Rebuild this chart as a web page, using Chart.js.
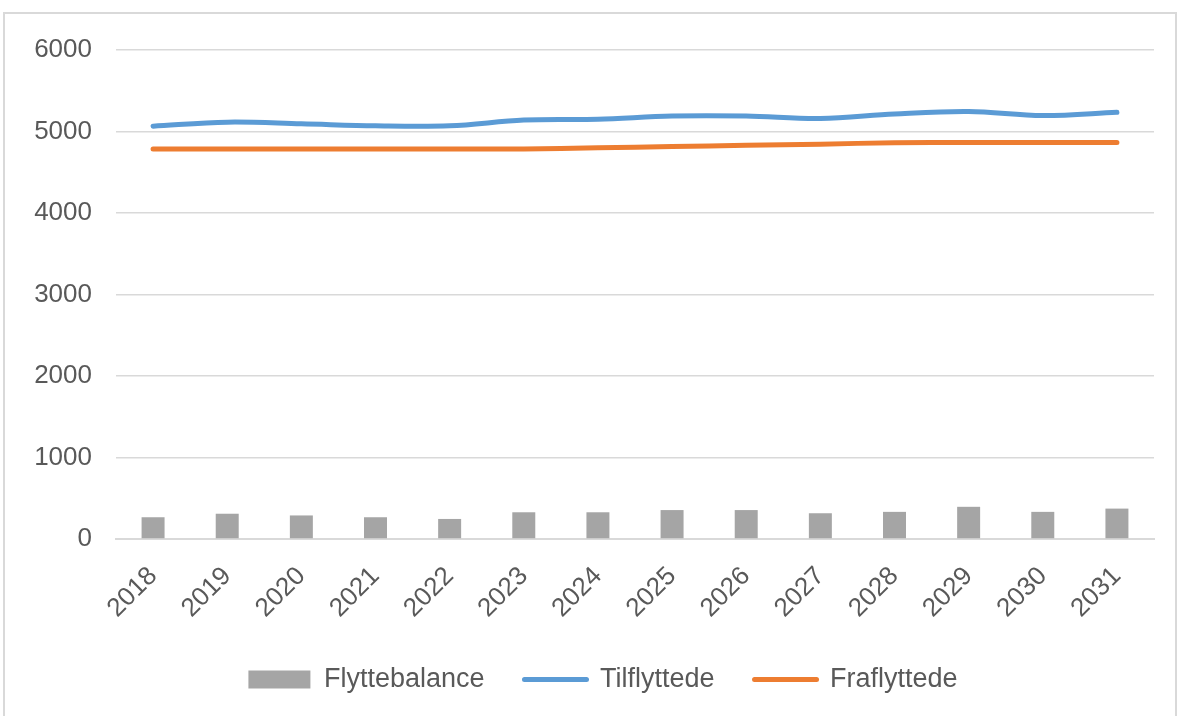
<!DOCTYPE html>
<html>
<head>
<meta charset="utf-8">
<script src="https://cdn.jsdelivr.net/npm/chart.js@4.4.1/dist/chart.umd.min.js"></script>
<style>
  body { margin: 0; background: #fff; overflow: hidden; }
  #ramme { position: absolute; left: 3px; top: 12px; width: 1170px; height: 720px; border: 2px solid #d9d9d9; }
  #wrap { position: absolute; left: 0; top: 0; width: 1179px; height: 716px; }
</style>
</head>
<body>
<div id="ramme"></div>
<div id="wrap"><canvas id="graf"></canvas></div>
<script>
// aar og flyttetal aflaest fra figuren
var aar = ['2018','2019','2020','2021','2022','2023','2024','2025','2026','2027','2028','2029','2030','2031'];
var flyttebalance = [267, 310, 289, 267, 246, 328, 328, 355, 355, 316, 333, 395, 333, 373];
var tilflyttede = [5065, 5115, 5095, 5070, 5070, 5140, 5150, 5190, 5190, 5160, 5215, 5245, 5195, 5235];
var fraflyttede = [4785, 4785, 4785, 4785, 4785, 4785, 4800, 4815, 4830, 4845, 4862, 4865, 4865, 4865];
var yTicks = [0, 1000, 2000, 3000, 4000, 5000, 6000];

var tekstFarve = '#595959';
var gitter = '#d9d9d9';
var skrift = "'Liberation Sans', Arial, sans-serif";

// legenden: mindre hoejde og lidt mod hoejre som i excel
var legendeHoejde = {
  id: 'legendeHoejde',
  afterInit: function(chart) {
    var lg = chart.legend;
    if (!lg) return;
    var gammelFit = lg.fit;
    lg.fit = function() {
      gammelFit.call(this);
      this.height = 90;
    };
  },
  beforeDraw: function(chart) {
    var lg = chart.legend;
    if (!lg) return;
    lg.left = 52;
    lg.right = chart.chartArea.right;
  }
};

var ctx = document.getElementById('graf');
var myChart = new Chart(ctx, {
  type: 'bar',
  data: {
    labels: aar,
    datasets: [
      {
        label: 'Flyttebalance',
        data: flyttebalance,
        backgroundColor: '#a5a5a5',
        borderWidth: 0,
        barPercentage: 0.31,
        categoryPercentage: 1,
        order: 3
      },
      {
        type: 'line',
        label: 'Tilflyttede',
        data: tilflyttede,
        borderColor: '#5b9bd5',
        backgroundColor: '#5b9bd5',
        borderWidth: 5,
        borderCapStyle: 'round',
        tension: 0.35,
        pointRadius: 0,
        fill: false,
        order: 1
      },
      {
        type: 'line',
        label: 'Fraflyttede',
        data: fraflyttede,
        borderColor: '#ed7d31',
        backgroundColor: '#ed7d31',
        borderWidth: 5,
        borderCapStyle: 'round',
        tension: 0.35,
        pointRadius: 0,
        fill: false,
        order: 2
      }
    ]
  },
  plugins: [legendeHoejde],
  options: {
    responsive: true,
    maintainAspectRatio: false,
    animation: false,
    layout: { padding: { left: 0, right: 25, top: 50, bottom: 0 } },
    plugins: {
      tooltip: { enabled: false },
      title: { display: false },
      legend: {
        position: 'bottom',
        labels: {
          color: tekstFarve,
          font: { family: skrift, size: 27 },
          boxWidth: 62,
          boxHeight: 18,
          padding: 40,
          usePointStyle: true,
          pointStyleWidth: 62,
          generateLabels: function(chart) {
            return chart.data.datasets.map(function(ds, i) {
              var erLinje = ds.type === 'line';
              return {
                text: ds.label,
                datasetIndex: i,
                fillStyle: erLinje ? ds.borderColor : ds.backgroundColor,
                strokeStyle: erLinje ? ds.borderColor : ds.backgroundColor,
                lineWidth: erLinje ? 5 : 0,
                lineCap: 'round',
                pointStyle: erLinje ? 'line' : 'rect',
                fontColor: tekstFarve,
                hidden: false
              };
            });
          }
        }
      }
    },
    scales: {
      x: {
        grid: { display: false },
        border: { color: gitter, width: 2 },
        ticks: {
          color: tekstFarve,
          font: { family: skrift, size: 26 },
          minRotation: 45,
          maxRotation: 45,
          padding: 14
        },
        afterFit: function(scale) { scale.height = 87; }
      },
      y: {
        min: 0,
        max: 6000,
        grid: { color: gitter, lineWidth: 1.5, drawTicks: false },
        border: { display: false },
        afterBuildTicks: function(scale) {
          scale.ticks = yTicks.map(function(v) { return { value: v }; });
        },
        ticks: {
          color: tekstFarve,
          font: { family: skrift, size: 26 },
          padding: 24,
          callback: function(v) { return String(v); }
        },
        afterFit: function(scale) { scale.width = 116; }
      }
    }
  }
});
</script>
</body>
</html>
